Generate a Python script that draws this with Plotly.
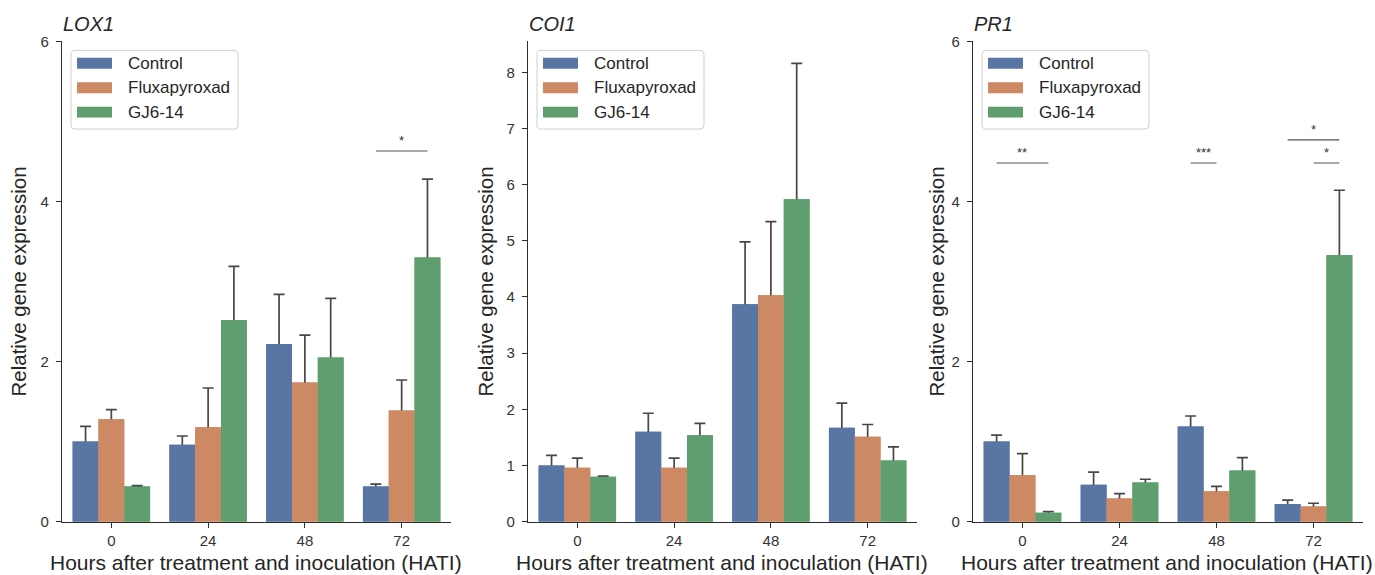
import plotly.graph_objects as go

# ---------------- data ----------------
times = ["0", "24", "48", "72"]
groups = ["Control", "Fluxapyroxad", "GJ6-14"]
genes = ["LOX1", "COI1", "PR1"]

lox1_mean = {"Control": [1.00, 0.96, 2.22, 0.44],
             "Fluxapyroxad": [1.28, 1.18, 1.74, 1.39],
             "GJ6-14": [0.44, 2.52, 2.05, 3.30]}
lox1_upper = {"Control": [1.19, 1.07, 2.84, 0.47],
              "Fluxapyroxad": [1.40, 1.67, 2.33, 1.77],
              "GJ6-14": [0.45, 3.19, 2.79, 4.28]}

coi1_mean = {"Control": [1.00, 1.60, 3.87, 1.67],
             "Fluxapyroxad": [0.96, 0.96, 4.03, 1.51],
             "GJ6-14": [0.80, 1.54, 5.74, 1.09]}
coi1_upper = {"Control": [1.18, 1.93, 4.98, 2.11],
              "Fluxapyroxad": [1.13, 1.13, 5.34, 1.73],
              "GJ6-14": [0.81, 1.75, 8.16, 1.33]}

pr1_mean = {"Control": [1.00, 0.46, 1.19, 0.22],
            "Fluxapyroxad": [0.58, 0.29, 0.38, 0.19],
            "GJ6-14": [0.11, 0.49, 0.64, 3.33]}
pr1_upper = {"Control": [1.08, 0.62, 1.32, 0.27],
             "Fluxapyroxad": [0.85, 0.35, 0.44, 0.23],
             "GJ6-14": [0.125, 0.53, 0.80, 4.14]}

# significance: (time index, group a, group b, bracket height, label)
lox1_sig = [(3, "Control", "GJ6-14", 4.63, "*")]
coi1_sig = []
pr1_sig = [(0, "Control", "GJ6-14", 4.48, "**"),
           (2, "Control", "Fluxapyroxad", 4.48, "***"),
           (3, "Fluxapyroxad", "GJ6-14", 4.48, "*"),
           (3, "Control", "GJ6-14", 4.77, "*")]

y_max = [6, 8.55, 6]
y_dtick = [2, 1, 2]

x_title = "Hours after treatment and inoculation (HATI)"
y_title = "Relative gene expression"

# ---------------- style ----------------
colors = {"Control": "#5975A4", "Fluxapyroxad": "#CC8963", "GJ6-14": "#5F9E6E"}
W, H = 1375, 575
FONT = "Liberation Sans, Arial, sans-serif"
AX = "#2b2b2b"
ERR = "#474747"

# the page renders the paper area slightly inset vertically; compensate
V_OFF, V_SPAN = 7.5, 560.0

def px(x):
    return x / W

def py(y):
    return 1 - (y - V_OFF) / V_SPAN

panel_px = [(62, 451), (528, 917), (973, 1363)]
y_top_px, y_bot_px = 40, 522
ytitle_x_px = [19, 486, 937]

means = [lox1_mean, coi1_mean, pr1_mean]
uppers = [lox1_upper, coi1_upper, pr1_upper]
sigs = [lox1_sig, coi1_sig, pr1_sig]

group_width = 0.8
bar_w = group_width / len(groups)
offsets = {g: (i - (len(groups) - 1) / 2) * bar_w for i, g in enumerate(groups)}
xidx = list(range(len(times)))

fig = go.Figure()
shapes = []
annotations = []

for p in range(3):
    ax_suffix = "" if p == 0 else str(p + 1)
    xref = "x" + ax_suffix
    yref = "y" + ax_suffix
    # bars with error bars (lower part hidden by cover bars)
    for g in groups:
        m = means[p][g]
        up = uppers[p][g]
        fig.add_trace(go.Bar(
            x=xidx, y=m, name=g, offsetgroup=g, xaxis=xref, yaxis=yref,
            marker=dict(color=colors[g], line=dict(width=0)),
            error_y=dict(type="data", symmetric=True,
                         array=[u - v for u, v in zip(up, m)],
                         color=ERR, thickness=1.7, width=5.5),
            showlegend=False, hoverinfo="skip"))
    for g in groups:
        fig.add_trace(go.Bar(
            x=xidx, y=means[p][g], name=g, offsetgroup=g, xaxis=xref, yaxis=yref,
            marker=dict(color=colors[g], line=dict(width=0)),
            showlegend=False, hoverinfo="x+y"))

    x0p, x1p = panel_px[p]
    dom_x = [px(x0p), px(x1p)]
    dom_y = [py(y_bot_px), py(y_top_px)]
    fig.update_layout(**{
        "xaxis" + ax_suffix: dict(
            domain=dom_x, range=[-0.51, 3.51], tickvals=xidx, ticktext=times,
            showline=True, linecolor=AX, linewidth=1.4, ticks="outside",
            ticklen=5, tickwidth=1.2, tickcolor=AX, showgrid=False, zeroline=False,
            tickfont=dict(family=FONT, size=15, color="#333333"),
            anchor=yref, fixedrange=True),
        "yaxis" + ax_suffix: dict(
            domain=dom_y, range=[0, y_max[p]], dtick=y_dtick[p], tick0=0,
            showline=True, linecolor=AX, linewidth=1.4, ticks="outside",
            ticklen=5, tickwidth=1.2, tickcolor=AX, showgrid=False, zeroline=False,
            tickfont=dict(family=FONT, size=15, color="#333333"),
            ticklabelstandoff=4,
            anchor=xref, fixedrange=True),
    })

    # gene title
    annotations.append(dict(
        x=px(x0p - 1), y=py(23), xref="paper", yref="paper", text="<i>%s</i>" % genes[p],
        showarrow=False, xanchor="left", yanchor="middle",
        font=dict(family=FONT, size=20, color="#262626")))
    # axis titles
    annotations.append(dict(
        x=px((x0p + x1p) / 2 - 1), y=py(563), xref="paper", yref="paper", text=x_title,
        showarrow=False, xanchor="center", yanchor="middle",
        font=dict(family=FONT, size=21, color="#262626")))
    annotations.append(dict(
        x=px(ytitle_x_px[p]), y=py((y_top_px + y_bot_px) / 2), xref="paper", yref="paper",
        text=y_title, textangle=-90, showarrow=False, xanchor="center", yanchor="middle",
        font=dict(family=FONT, size=20.5, color="#262626")))

    # legend (drawn manually to match the wide patches)
    bx0, bx1 = px(x0p + 9), px(x0p + 176)
    by0, by1 = py(128), py(49)
    rx, ry = px(4), 4 / V_SPAN
    path = ("M %f,%f L %f,%f Q %f,%f %f,%f L %f,%f Q %f,%f %f,%f "
            "L %f,%f Q %f,%f %f,%f L %f,%f Q %f,%f %f,%f Z") % (
        bx0 + rx, by1, bx1 - rx, by1, bx1, by1, bx1, by1 - ry,
        bx1, by0 + ry, bx1, by0, bx1 - rx, by0,
        bx0 + rx, by0, bx0, by0, bx0, by0 + ry,
        bx0, by1 - ry, bx0, by1, bx0 + rx, by1)
    shapes.append(dict(type="path", path=path, xref="paper", yref="paper",
                       line=dict(color="#d0d0d0", width=1), fillcolor="rgba(255,255,255,0.85)",
                       layer="above"))
    for i, g in enumerate(groups):
        cy = 62 + i * 24.5
        shapes.append(dict(type="rect", xref="paper", yref="paper",
                           x0=px(x0p + 15), x1=px(x0p + 50), y0=py(cy + 5.5), y1=py(cy - 5.5),
                           fillcolor=colors[g], line=dict(width=0), layer="above"))
        annotations.append(dict(
            x=px(x0p + 64), y=py(cy), xref="paper", yref="paper", text=g,
            showarrow=False, xanchor="left", yanchor="middle",
            font=dict(family=FONT, size=17, color="#262626")))

    # significance brackets
    for (ti, ga, gb, hy, lab) in sigs[p]:
        xa = ti + offsets[ga]
        xb = ti + offsets[gb]
        shapes.append(dict(type="line", xref=xref, yref=yref, x0=xa, x1=xb, y0=hy, y1=hy,
                           line=dict(color="#555555", width=1.1)))
        annotations.append(dict(
            x=(xa + xb) / 2, y=hy, xref=xref, yref=yref, text=lab, showarrow=False,
            xanchor="center", yanchor="bottom", yshift=1,
            font=dict(family=FONT, size=13, color="#333333")))

fig.update_layout(
    width=W, height=H,
    margin=dict(l=0, r=0, t=0, b=0),
    paper_bgcolor="white", plot_bgcolor="white",
    barmode="group", bargap=1 - group_width, bargroupgap=0,
    showlegend=False,
    shapes=shapes, annotations=annotations,
)

fig.write_html("out.html")
